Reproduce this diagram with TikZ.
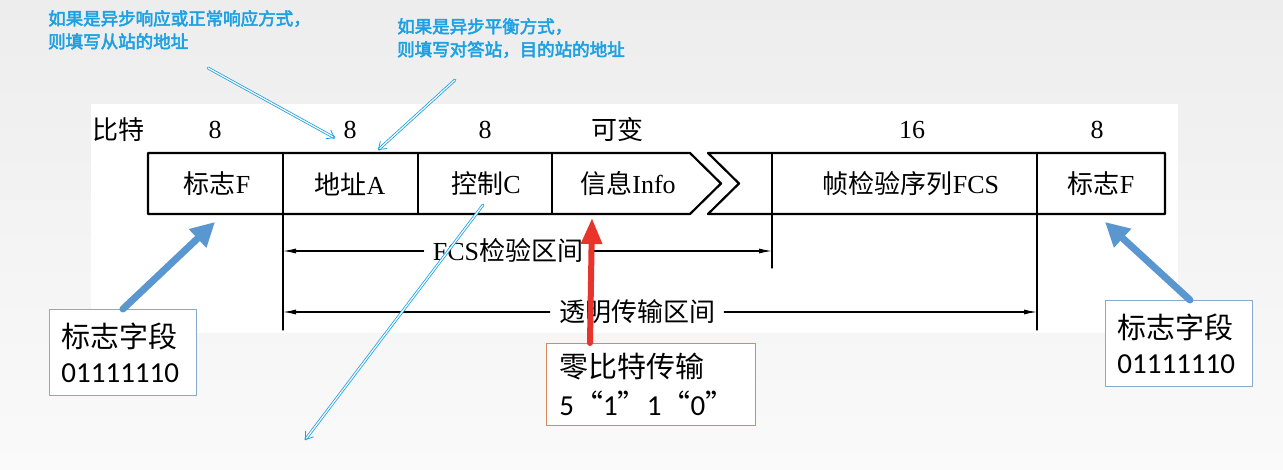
\documentclass[tikz,border=0pt]{standalone}
\usepackage{fontspec}
\setmainfont{Liberation Serif}
\newfontfamily\cjk{Noto Sans CJK SC}
\newfontfamily\cjkheavy[FakeBold=3]{Noto Sans CJK SC}
\newfontfamily\calib{Carlito}
\usetikzlibrary{arrows.meta,positioning}
\definecolor{hdlcSky}{HTML}{1DA1E2}
\definecolor{hdlcBlue}{HTML}{5A96CF}
\definecolor{hdlcBlueLine}{HTML}{86AACD}
\definecolor{hdlcRed}{HTML}{E8342B}
\definecolor{hdlcOrange}{HTML}{E0875A}
\definecolor{hdlcBack}{HTML}{EDEDED}
\definecolor{hdlcBackTwo}{HTML}{FAFAFA}

\begin{document}
\begin{tikzpicture}[x=1pt,y=-1pt,>=Latex,line cap=round,line join=round]
\path[top color=hdlcBack,bottom color=hdlcBackTwo] (0,0) rectangle (1283,470);
\path[fill=white] (91,104) rectangle (1178,333);
\tikzset{frame/.style={draw=black,line width=2.2pt},divider/.style={draw=black,line width=1.4pt},tick/.style={draw=black,line width=1.1pt},dimline/.style={draw=black,line width=1.1pt,-{Latex[length=13pt,width=5pt]}},cellText/.style={font=\fontsize{26}{30}\selectfont,inner sep=0pt},rangeText/.style={cellText,fill=white,inner xsep=9pt,inner ysep=2pt},calloutBox/.style={fill=white,line width=0.9pt,align=left,font=\fontsize{29}{35}\selectfont,anchor=north west},flagBox/.style={calloutBox,draw=hdlcBlueLine,inner xsep=12pt,minimum width=147pt,minimum height=86pt,text width=123pt},note/.style={text=hdlcSky,font=\cjkheavy\fontsize{17.5}{23}\selectfont,align=left,anchor=north west,inner sep=0pt},pointer/.style={draw=hdlcSky,line width=0.8pt,double=white,double distance=1.2pt,-{Straight Barb[length=7pt,width=10pt]}},flagArrow/.style={draw=hdlcBlue,line width=7pt,-{Triangle[length=24pt,width=24pt]}},zeroArrow/.style={draw=hdlcRed,line width=6pt,-{Triangle[length=26pt,width=20pt]}}}
% frame with the break in the info field
\draw[frame] (690,214) -- (148,214) -- (148,153) -- (690,153) -- (721,183.5) -- cycle;
\draw[frame] (708,153) -- (1165,153) -- (1165,214) -- (708,214) -- (739,183.5) -- cycle;
\draw[divider] (418,153) -- (418,214); \draw[divider] (552,153) -- (552,214);
\draw[tick] (283,153) -- (283,330); \draw[tick] (772,153) -- (772,268); \draw[tick] (1037,153) -- (1037,330);
% bit counts
\node[cellText] (bitsHead) at (118,130) {\cjk 比特};
\node[cellText] (bitsFlagL) at (215,130) {8}; \node[cellText] (bitsAddr) at (350,130) {8}; \node[cellText] (bitsCtrl) at (485,130) {8};
\node[cellText] (bitsInfo) at (617,130) {\cjk 可变}; \node[cellText] (bitsFcs) at (912,130) {16}; \node[cellText] (bitsFlagR) at (1097,130) {8};
% fields
\node[cellText] (flagL) at (217,184) {{\cjk 标志}F};
\node[cellText] (addrA) at (350,184) {{\cjk 地址}A};
\node[cellText] (ctrlC) at (486,184) {{\cjk 控制}C};
\node[cellText] (infoField) at (628,184) {{\cjk 信息}Info};
\node[cellText] (fcsField) at (911,184) {{\cjk 帧检验序列}FCS};
\node[cellText] (flagR) at (1101,184) {{\cjk 标志}F};
% ranges
\node[rangeText] (fcsRange) at (508,251) {FCS{\cjk 检验区间}};
\coordinate (fcsStart) at (283,251); \coordinate (fcsEnd) at (772,251);
\draw[dimline] (fcsRange) -- (fcsStart); \draw[dimline] (fcsRange) -- (fcsEnd);
\node[rangeText] (clearRange) at (637,312) {\cjk 透明传输区间};
\coordinate (clearStart) at (283,312); \coordinate (clearEnd) at (1037,312);
\draw[dimline] (clearRange) -- (clearStart); \draw[dimline] (clearRange) -- (clearEnd);
% flag callouts
\node[flagBox] (flagNoteL) at (49,309) {{\cjk 标志字段}\\{\calib 01111110}};
\node[flagBox] (flagNoteR) at (1105,300) {{\cjk 标志字段}\\{\calib 01111110}};
\coordinate (flagTipL) at (215,222); \coordinate (flagTipR) at (1105,222);
\draw[flagArrow] (flagNoteL.north) -- (flagTipL);
\draw[flagArrow] ([xshift=11pt]flagNoteR.north) -- (flagTipR);
% zero bit stuffing
\node[calloutBox,draw=hdlcOrange,inner xsep=13pt,minimum width=209pt,minimum height=82pt,text width=183pt,font=\fontsize{29}{38}\selectfont] (zeroBox) at (546,343) {{\cjk 零比特传输}\\{\calib 5}{\cjk “}{\calib 1}{\cjk ”}{\calib 1}{\cjk “}{\calib 0}{\cjk ”}};
\coordinate (zeroTip) at (592,218);
\draw[zeroArrow] ([xshift=44pt]zeroBox.north west) -- (zeroTip);
% address notes
\node[note] (noteAsync) at (48,10) {如果是异步响应或正常响应方式，\\则填写从站的地址};
\node[note] (noteBalanced) at (397,18) {如果是异步平衡方式，\\则填写对答站，目的站的地址};
\coordinate (asyncFrom) at (208,68); \coordinate (addrTop) at (335,138);
\coordinate (balancedFrom) at (455,80); \coordinate (addrEdge) at (378,150);
\coordinate (ctrlFrom) at (483,205); \coordinate (ctrlOut) at (305,440);
\draw[pointer] (asyncFrom) -- (addrTop);
\draw[pointer] (balancedFrom) -- (addrEdge);
\draw[pointer] (ctrlFrom) -- (ctrlOut);
\end{tikzpicture}
\end{document}
